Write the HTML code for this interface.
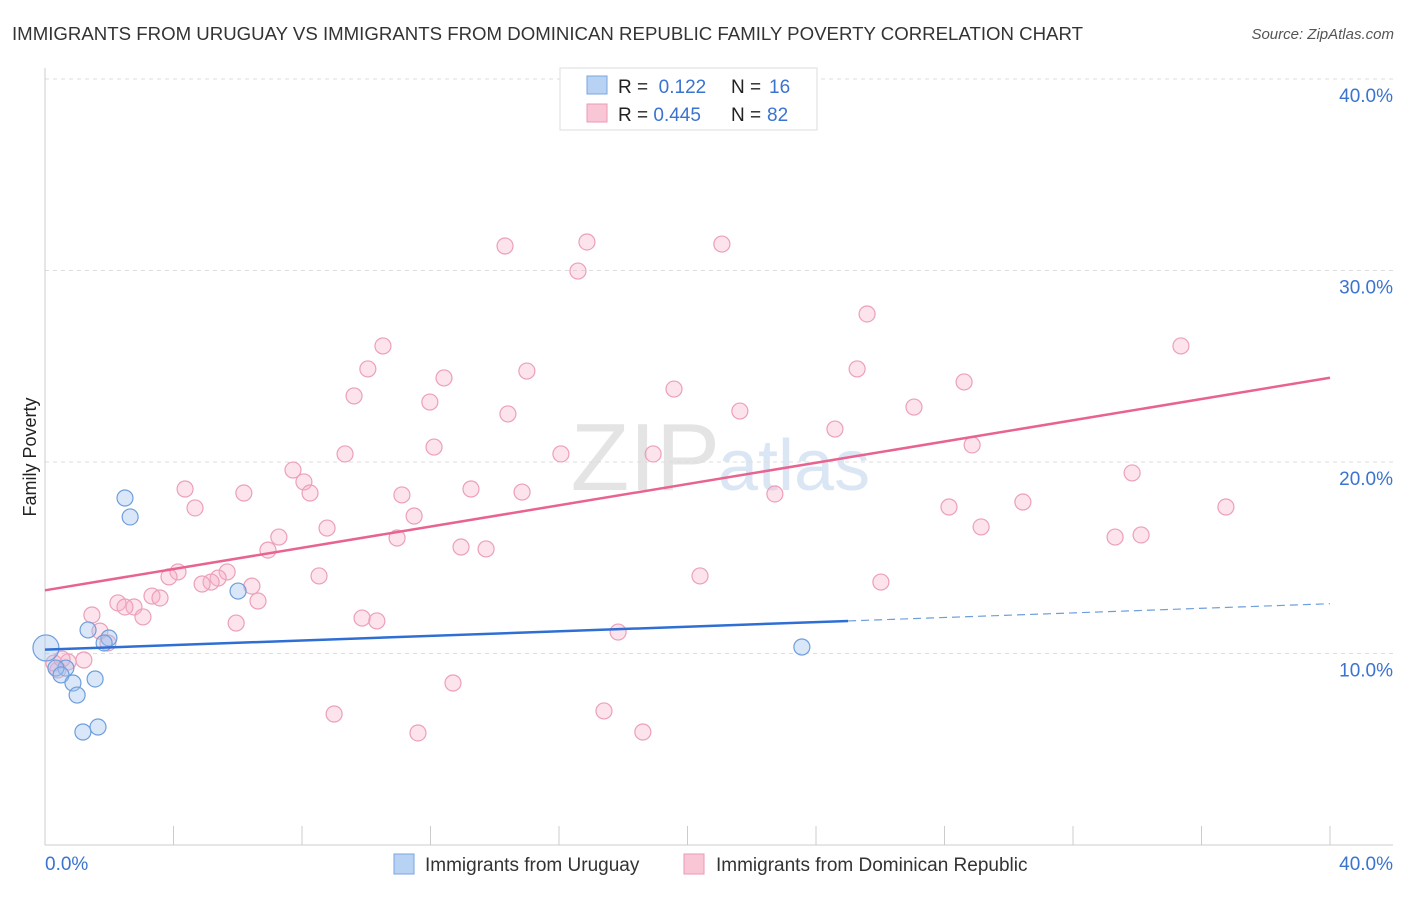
<!DOCTYPE html>
<html><head><meta charset="utf-8">
<style>
body{margin:0;background:#fff;font-family:"Liberation Sans",sans-serif;}
svg text{font-family:"Liberation Sans",sans-serif;}
</style></head>
<body>
<svg id="chart" width="1406" height="892" xmlns="http://www.w3.org/2000/svg">
<text x="12" y="40" font-size="18" fill="#333" textLength="1071" lengthAdjust="spacingAndGlyphs">IMMIGRANTS FROM URUGUAY VS IMMIGRANTS FROM DOMINICAN REPUBLIC FAMILY POVERTY CORRELATION CHART</text>
<text x="1394" y="39" font-size="15" fill="#555" text-anchor="end" font-style="italic">Source: ZipAtlas.com</text>
<text x="720" y="490" font-size="96" fill="#e4e4e4" text-anchor="end" font-family="Liberation Serif">ZIP</text>
<text x="718" y="490" font-size="72" fill="#dbe6f5">atlas</text>
<text x="36" y="457" font-size="18" fill="#222" text-anchor="middle" transform="rotate(-90 36 457)">Family Poverty</text>
<g id="grid"></g>
<g id="axes"></g>
<g id="marks"></g>
<g>
<rect x="560" y="68" width="257" height="62" fill="#fff" stroke="#ddd"/>
<rect x="587" y="76" width="20" height="18" fill="#b8d2f4" stroke="#7aa6e0"/>
<rect x="587" y="104" width="20" height="18" fill="#f9c6d6" stroke="#eb9ab6"/>
<text x="618" y="93" font-size="19" fill="#222">R = <tspan fill="#3a73d0">&#160;0.122</tspan><tspan x="731" fill="#222">N = </tspan><tspan x="769" fill="#3a73d0">16</tspan></text>
<text x="618" y="121" font-size="19" fill="#222">R = <tspan fill="#3a73d0">0.445</tspan><tspan x="731" fill="#222">N = </tspan><tspan x="767" fill="#3a73d0">82</tspan></text>
</g>
<g>
<rect x="394" y="854" width="20" height="20" fill="#b8d2f4" stroke="#7aa6e0"/>
<text x="425" y="871" font-size="19" fill="#333">Immigrants from Uruguay</text>
<rect x="684" y="854" width="20" height="20" fill="#f9c6d6" stroke="#eb9ab6"/>
<text x="716" y="871" font-size="19" fill="#333">Immigrants from Dominican Republic</text>
</g>
</svg>
<script>
const yTicks=[10,20,30,40];
const yTickLabels=["10.0%","20.0%","30.0%","40.0%"];
const xTickCount=10;
const pinkX=[14.32,16.87,21.07,16.59,25.59,10.52,35.36,10.05,15.00,25.28,12.42,28.61,9.62,19.58,11.98,27.05,21.63,14.41,24.59,12.11,28.86,9.34,16.06,18.93,33.84,7.72,8.06,4.36,13.26,6.19,8.25,11.11,14.85,22.72,30.44,4.67,28.14,36.76,11.49,8.78,29.14,7.28,10.96,33.31,34.12,12.95,13.73,6.94,4.14,3.86,8.53,20.39,5.67,5.39,5.17,4.89,6.44,26.02,3.33,3.58,6.63,2.27,2.77,2.49,3.05,1.46,9.87,10.33,5.95,17.84,1.71,1.96,1.21,0.72,0.40,0.28,12.70,9.00,17.40,11.61,18.61,0.53];
const pinkY=[31.28,31.49,31.38,29.97,27.73,26.06,26.06,24.86,24.75,24.86,24.39,24.18,23.45,23.81,23.13,22.87,22.66,22.51,21.72,20.78,20.89,20.42,20.42,20.42,19.43,19.58,18.96,18.59,18.59,18.38,18.38,18.28,18.43,18.33,17.91,17.60,17.65,17.65,17.18,16.55,16.61,16.08,16.03,16.08,16.19,15.56,15.46,15.40,14.26,14.00,14.05,14.05,14.26,13.94,13.73,13.63,13.52,13.73,13.00,12.90,12.74,12.64,12.43,12.43,11.91,12.01,11.85,11.70,11.59,11.12,11.17,10.55,9.66,9.56,9.14,9.50,8.46,6.84,7.00,5.85,5.90,9.71];
const blueX=[0.03,2.49,2.65,6.01,1.34,1.99,1.84,0.65,0.34,0.50,0.87,1.56,1.00,1.18,1.65,23.56];
const blueY=[10.29,18.12,17.13,13.26,11.23,10.81,10.55,9.24,9.24,8.88,8.46,8.67,7.83,5.90,6.16,10.34];
const pinkTrend=[13.3,24.4];
const blueTrend=[10.2,12.6];
const NS="http://www.w3.org/2000/svg";
const X=v=>45+v*32.125, Y=v=>845-v*19.15;
function mk(tag,attrs,parent){const e=document.createElementNS(NS,tag);for(const k in attrs)e.setAttribute(k,attrs[k]);parent.appendChild(e);return e;}
const grid=document.getElementById('grid'),axes=document.getElementById('axes'),marks=document.getElementById('marks');
yTicks.forEach((t,i)=>{
 const l=mk('line',{x1:45,x2:1393,y1:Y(t),y2:Y(t),stroke:'#ddd','stroke-dasharray':'4,4'},grid);
 
 
 const tx=mk('text',{x:1393,y:Y(t)+23,'font-size':19,fill:'#3a73d0','text-anchor':'end'},axes);
 tx.textContent=yTickLabels[i];
 
 
});
let a=mk('line',{x1:45,x2:45,y1:68,y2:845,stroke:'#ccc'},axes);


a=mk('line',{x1:45,x2:1393,y1:845,y2:845,stroke:'#ccc'},axes);


for(let i=0;i<=xTickCount;i++){const xv=i*40/xTickCount;
 const t=mk('line',{x1:X(xv),x2:X(xv),y1:826,y2:845,stroke:'#ccc'},axes);
 
 }
let t=mk('text',{x:45,y:870,'font-size':19,fill:'#3a73d0'},axes);t.textContent='0.0%';


t=mk('text',{x:1393,y:870,'font-size':19,fill:'#3a73d0','text-anchor':'end'},axes);t.textContent='40.0%';


pinkX.forEach((x,i)=>{const c=mk('circle',{cx:X(x),cy:Y(pinkY[i]),r:8,fill:'rgba(246,176,200,0.35)',stroke:'#ec9fba','stroke-width':1.2},marks);
 
 });
blueX.forEach((x,i)=>{const c=mk('circle',{cx:X(x),cy:Y(blueY[i]),r:i==0?13:8,fill:'rgba(160,196,240,0.4)',stroke:'#6e9edc','stroke-width':1.2},marks);
 
 });
let ln=mk('line',{x1:X(0),y1:Y(pinkTrend[0]),x2:X(40),y2:Y(pinkTrend[1]),stroke:'#e8638f','stroke-width':2.5},marks);


const bAt=v=>blueTrend[0]+(blueTrend[1]-blueTrend[0])*v/40;
ln=mk('line',{x1:X(0),y1:Y(bAt(0)),x2:X(25),y2:Y(bAt(25)),stroke:'#2f6fd4','stroke-width':2.5},marks);


ln=mk('line',{x1:X(25),y1:Y(bAt(25)),x2:X(40),y2:Y(bAt(40)),stroke:'#6e9edc','stroke-width':1.2,'stroke-dasharray':'8,5'},marks);


</script>
</body></html>
